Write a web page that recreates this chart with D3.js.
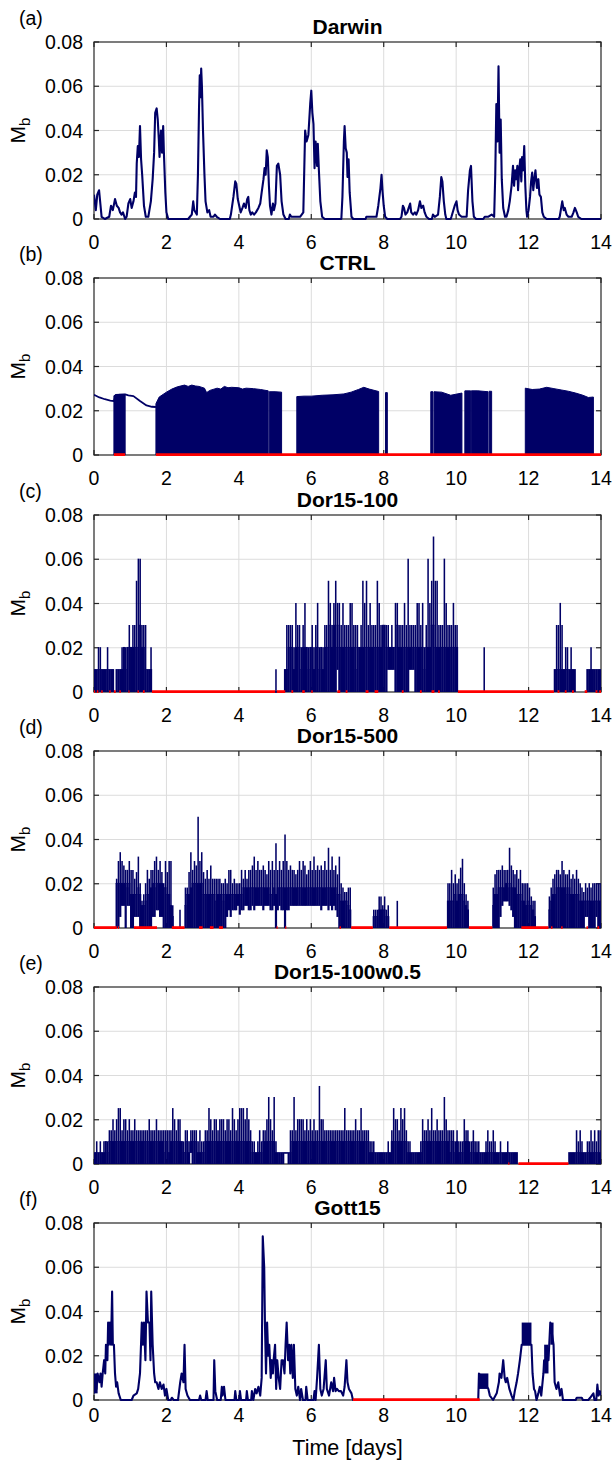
<!DOCTYPE html>
<html><head><meta charset="utf-8">
<script src="https://cdn.jsdelivr.net/npm/d3@7"></script>
<style>
body{margin:0;background:#fff;}
svg{display:block;font-family:"Liberation Sans",Arial,Helvetica,sans-serif;}
</style></head><body>
<svg id="fig" width="613" height="1461"></svg>
<script>
// ---------- axes ----------
const xTicks = [0, 2, 4, 6, 8, 10, 12, 14];
const yTicks = [0, 0.02, 0.04, 0.06, 0.08];
const yTickLabels = ["0", "0.02", "0.04", "0.06", "0.08"];
const panelLetters = ["(a)", "(b)", "(c)", "(d)", "(e)", "(f)"];
const panelTitles = ["Darwin", "CTRL", "Dor15-100", "Dor15-500", "Dor15-100w0.5", "Gott15"];

// ---------- (a) Darwin: [time (days), Mb] ----------
const darwin = [
[0,0.011],[0.05,0.004],[0.09,0.011],[0.14,0.013],[0.21,0.001],[0.3,0],[0.42,0.001],[0.47,0.006],[0.52,0.004],[0.58,0.009],[0.63,0.006],[0.68,0.005],[0.72,0.003],[0.76,0.002],[0.8,0.003],[0.86,0],[0.9,0.001],[0.95,0.007],[1.0,0.009],[1.04,0.005],[1.09,0.008],[1.13,0.012],[1.16,0.01],[1.18,0.025],[1.21,0.033],[1.24,0.028],[1.27,0.042],[1.3,0.027],[1.33,0.02],[1.38,0.006],[1.43,0.001],[1.5,0.001],[1.57,0.008],[1.62,0.018],[1.66,0.03],[1.69,0.048],[1.73,0.05],[1.76,0.045],[1.79,0.036],[1.81,0.028],[1.85,0.04],[1.88,0.03],[1.91,0.042],[1.93,0.03],[1.97,0.012],[2.0,0.003],[2.05,0],[2.6,0],[2.65,0.001],[2.7,0.002],[2.74,0.008],[2.77,0.004],[2.84,0.002],[2.87,0.02],[2.9,0.05],[2.92,0.065],[2.94,0.055],[2.96,0.068],[2.98,0.06],[3.01,0.04],[3.05,0.02],[3.08,0.008],[3.13,0.003],[3.18,0.004],[3.22,0.001],[3.3,0.001],[3.34,0.002],[3.39,0.001],[3.48,0],[3.75,0],[3.78,0.002],[3.85,0.01],[3.9,0.017],[3.93,0.016],[3.97,0.009],[4.01,0.006],[4.05,0.003],[4.1,0.005],[4.14,0.007],[4.19,0.005],[4.23,0.009],[4.26,0.01],[4.29,0.004],[4.33,0.002],[4.37,0.003],[4.42,0.002],[4.47,0.003],[4.54,0.005],[4.59,0.007],[4.63,0.012],[4.68,0.018],[4.71,0.023],[4.74,0.02],[4.77,0.031],[4.8,0.028],[4.83,0.015],[4.86,0.006],[4.9,0.002],[4.94,0.007],[4.97,0.004],[5.01,0.007],[5.05,0.024],[5.09,0.025],[5.14,0.02],[5.18,0.008],[5.23,0.002],[5.29,0],[5.38,0],[5.41,0.002],[5.45,0.001],[5.5,0.001],[5.69,0.001],[5.78,0.003],[5.83,0.04],[5.87,0.035],[5.92,0.038],[5.97,0.052],[6.0,0.058],[6.03,0.048],[6.06,0.043],[6.09,0.023],[6.12,0.035],[6.16,0.024],[6.18,0.034],[6.21,0.022],[6.25,0.008],[6.3,0.001],[6.37,0],[6.83,0],[6.86,0.01],[6.9,0.035],[6.92,0.042],[6.95,0.032],[6.98,0.03],[7.0,0.019],[7.03,0.027],[7.06,0.012],[7.11,0.001],[7.16,0],[7.5,0],[7.52,0.001],[7.6,0.001],[7.8,0.001],[7.85,0.006],[7.91,0.014],[7.94,0.02],[7.97,0.012],[8.0,0.006],[8.04,0.001],[8.1,0],[8.45,0],[8.49,0.001],[8.53,0.006],[8.56,0.005],[8.6,0.002],[8.65,0.003],[8.69,0.005],[8.73,0.007],[8.76,0.003],[8.81,0.002],[8.86,0.003],[8.9,0.002],[8.95,0.004],[9.0,0.008],[9.04,0.005],[9.09,0.006],[9.13,0.003],[9.18,0.001],[9.25,0],[9.33,0],[9.36,0.002],[9.41,0.001],[9.5,0.002],[9.55,0.01],[9.59,0.019],[9.62,0.017],[9.66,0.008],[9.7,0.002],[9.73,0],[9.85,0],[9.87,0.001],[9.96,0.006],[10.01,0.008],[10.04,0.004],[10.08,0.002],[10.15,0.001],[10.29,0.001],[10.33,0.013],[10.38,0.022],[10.41,0.024],[10.45,0.008],[10.49,0.001],[10.55,0],[10.75,0],[10.79,0.001],[10.88,0.001],[10.98,0.002],[11.05,0.001],[11.08,0.02],[11.11,0.052],[11.14,0.035],[11.17,0.069],[11.2,0.03],[11.23,0.045],[11.26,0.018],[11.3,0.005],[11.35,0.001],[11.39,0.001],[11.44,0.004],[11.48,0.008],[11.53,0.015],[11.57,0.024],[11.6,0.015],[11.63,0.022],[11.66,0.018],[11.69,0.024],[11.71,0.013],[11.74,0.022],[11.77,0.027],[11.8,0.017],[11.82,0.028],[11.85,0.022],[11.88,0.033],[11.91,0.015],[11.94,0.004],[11.96,0.001],[12.0,0.004],[12.04,0.01],[12.07,0.017],[12.1,0.021],[12.13,0.013],[12.16,0.018],[12.19,0.022],[12.23,0.014],[12.27,0.018],[12.3,0.011],[12.34,0.01],[12.38,0.003],[12.42,0.001],[12.5,0],[12.83,0],[12.86,0.001],[12.89,0.004],[12.93,0.008],[12.97,0.004],[13.0,0.005],[13.05,0.002],[13.1,0.001],[13.19,0.001],[13.24,0.003],[13.28,0.005],[13.33,0.003],[13.37,0.001],[13.46,0],[14,0]
];

// ---------- (b) CTRL ----------
// single trace before the oscillating regime
const ctrlTrace = [[0,0.0272],[0.15,0.026],[0.3,0.0252],[0.45,0.0246],[0.55,0.0244],[0.6,0.0272],[0.86,0.0274],[0.95,0.027],[1.09,0.0266],[1.27,0.0244],[1.45,0.0224],[1.6,0.0218],[1.71,0.0217]];
// rapidly oscillating blocks (0 up to the upper envelope)
const ctrlBlocks = [
 [[0.55,0.0268],[0.7,0.0274],[0.86,0.0274]],
 [[1.71,0.0232],[1.8,0.0262],[2.0,0.0284],[2.15,0.0298],[2.3,0.0308],[2.5,0.0316],[2.6,0.031],[2.7,0.0316],[2.8,0.0312],[2.9,0.031],[3.05,0.0302],[3.11,0.0282],[3.2,0.0292],[3.4,0.0302],[3.5,0.0298],[3.6,0.031],[3.7,0.0304],[3.8,0.0306],[4.0,0.0304],[4.1,0.0298],[4.2,0.0302],[4.4,0.03],[4.6,0.0296],[4.81,0.029]],
 [[4.84,0.0286],[5.0,0.0286],[5.18,0.0284]],
 [[5.6,0.0264],[5.8,0.0266],[6.0,0.0266],[6.3,0.027],[6.6,0.0272],[6.9,0.0276],[7.1,0.0284],[7.3,0.0296],[7.45,0.0306],[7.6,0.0298],[7.86,0.0287]],
 [[8.05,0.0282],[8.1,0.0282]],
 [[9.3,0.0286],[9.36,0.0286]],
 [[9.39,0.0286],[9.6,0.0284],[9.85,0.027],[10.16,0.028]],
 [[10.24,0.029],[10.4,0.029]],
 [[10.42,0.029],[10.6,0.029],[10.88,0.0286]],
 [[10.91,0.0288],[10.98,0.0288]],
 [[11.91,0.0302],[12.1,0.0296],[12.3,0.0298],[12.5,0.0306],[12.7,0.03],[12.9,0.0294],[13.1,0.0288],[13.3,0.028],[13.5,0.027],[13.65,0.026],[13.79,0.0262]]
];

// ---------- dense model output, 0.05-day columns: [t, low, solid top, peak] ----------
const colStep = 0.05;
const dor100 = [
[0,0,0.01,0.01],[0.05,0,0.01,0.01],[0.1,0,0.01,0.02],[0.15,0,0.01,0.02],[0.2,0,0.01,0.01],[0.25,0,0.01,0.01],[0.3,0,0.01,0.01],[0.35,0,0.01,0.02],[0.4,0,0.01,0.01],[0.45,0,0.01,0.01],[0.5,0,0.01,0.01],
[0.6,0,0.01,0.01],[0.65,0,0.01,0.01],[0.7,0,0.01,0.01],[0.75,0,0.01,0.02],[0.8,0,0.02,0.02],[0.85,0,0.01,0.02],[0.9,0,0.02,0.02],[0.95,0,0.02,0.03],[1.0,0,0.02,0.02],[1.05,0,0.02,0.03],[1.1,0,0.02,0.03],[1.15,0,0.02,0.05],[1.2,0,0.02,0.06],[1.25,0,0.03,0.06],[1.3,0,0.02,0.03],[1.35,0,0.02,0.03],[1.4,0,0.01,0.03],[1.45,0,0.01,0.01],[1.5,0,0.01,0.01],[1.55,0,0.01,0.02],
[5.0,0,0,0.01],
[5.25,0,0.01,0.01],[5.3,0,0.01,0.03],[5.35,0,0.02,0.03],[5.4,0,0.02,0.03],[5.45,0,0.02,0.03],[5.5,0,0.01,0.02],[5.55,0,0.02,0.04],[5.6,0,0.02,0.03],[5.65,0,0.02,0.03],[5.7,0,0.01,0.02],[5.75,0,0.02,0.03],[5.8,0,0.02,0.04],[5.85,0,0.02,0.02],[5.9,0,0.01,0.02],[5.95,0,0.02,0.02],
[6.0,0,0.02,0.03],[6.05,0,0.01,0.02],[6.1,0,0.02,0.03],[6.15,0,0.02,0.04],[6.2,0,0.01,0.02],[6.25,0,0.02,0.02],[6.3,0,0.01,0.02],[6.35,0,0.02,0.03],[6.4,0,0.02,0.03],[6.45,0,0.02,0.05],[6.5,0,0.03,0.04],[6.55,0,0.02,0.03],[6.6,0,0.03,0.04],[6.65,0,0.02,0.05],[6.7,0.01,0.03,0.04],[6.75,0,0.02,0.04],[6.8,0,0.02,0.03],[6.85,0,0.02,0.04],[6.9,0,0.02,0.03],[6.95,0,0.02,0.03],
[7.0,0,0.02,0.03],[7.05,0,0.02,0.04],[7.1,0,0.02,0.04],[7.15,0,0.02,0.03],[7.2,0,0.01,0.03],[7.25,0,0.02,0.03],[7.3,0,0.02,0.02],[7.35,0,0.02,0.03],[7.4,0,0.02,0.05],[7.45,0,0.02,0.04],[7.5,0,0.02,0.05],[7.55,0,0.02,0.03],[7.6,0,0.02,0.04],[7.65,0,0.02,0.03],[7.7,0,0.02,0.03],[7.75,0,0.02,0.03],[7.8,0,0.02,0.05],[7.85,0,0.02,0.04],[7.9,0,0.02,0.03],[7.95,0,0.03,0.03],
[8.0,0,0.03,0.03],[8.05,0,0.02,0.03],[8.1,0.01,0.02,0.03],[8.15,0.01,0.02,0.02],[8.2,0.01,0.02,0.03],[8.25,0.01,0.02,0.02],[8.3,0,0.02,0.04],[8.35,0,0.03,0.04],[8.4,0,0.02,0.03],[8.45,0,0.02,0.03],[8.5,0,0.02,0.03],[8.55,0,0.02,0.04],[8.6,0,0.02,0.03],[8.65,0,0.02,0.06],[8.7,0.01,0.02,0.03],[8.75,0.01,0.02,0.03],[8.8,0.01,0.02,0.03],[8.85,0,0.02,0.03],[8.9,0,0.02,0.04],[8.95,0,0.02,0.04],
[9.0,0,0.02,0.03],[9.05,0,0.02,0.04],[9.1,0,0.01,0.02],[9.15,0,0.02,0.03],[9.2,0,0.02,0.06],[9.25,0,0.02,0.04],[9.3,0,0.03,0.05],[9.35,0,0.03,0.07],[9.4,0,0.02,0.05],[9.45,0,0.02,0.05],[9.5,0,0.02,0.03],[9.55,0,0.02,0.03],[9.6,0,0.02,0.03],[9.65,0,0.02,0.06],[9.7,0,0.02,0.04],[9.75,0,0.02,0.03],[9.8,0,0.02,0.03],[9.85,0,0.02,0.03],[9.9,0,0.02,0.04],[9.95,0,0.02,0.03],[10.0,0,0.02,0.03],
[10.75,0,0,0.02],
[12.7,0,0.01,0.01],[12.75,0,0.01,0.03],[12.8,0,0.01,0.03],[12.85,0,0.01,0.04],[12.9,0,0.01,0.03],[12.95,0,0.01,0.01],[13.0,0,0.01,0.02],[13.05,0,0.01,0.02],[13.1,0,0.01,0.01],[13.15,0,0.01,0.02],[13.2,0,0.01,0.01],[13.25,0,0.01,0.01],
[13.6,0,0.01,0.01],[13.65,0,0.01,0.01],[13.7,0,0.01,0.02],[13.75,0,0.01,0.01],[13.8,0,0.01,0.01],[13.85,0,0.01,0.01],[13.9,0,0.01,0.01],[13.95,0,0.01,0.01]
];

const dor500 = [
[0.6,0,0.02,0.022],[0.65,0,0.02,0.03],[0.7,0.005,0.02,0.034],[0.75,0.01,0.02,0.03],[0.8,0.01,0.02,0.028],[0.85,0,0.02,0.026],[0.9,0.01,0.018,0.026],[0.95,0.01,0.02,0.03],
[1.0,0,0.015,0.026],[1.05,0,0.015,0.026],[1.1,0.005,0.015,0.022],[1.15,0.005,0.015,0.025],[1.2,0.005,0.018,0.032],[1.25,0,0.015,0.02],[1.3,0,0.01,0.012],[1.35,0,0.01,0.015],[1.4,0,0.012,0.02],[1.45,0,0.015,0.026],[1.5,0,0.015,0.022],[1.55,0,0.018,0.026],[1.6,0.005,0.02,0.026],[1.65,0.005,0.018,0.03],[1.7,0.008,0.02,0.032],[1.75,0.008,0.02,0.026],[1.8,0.005,0.02,0.03],[1.85,0.005,0.02,0.025],[1.9,0,0.018,0.02],[1.95,0,0.018,0.03],
[2.0,0,0.015,0.025],[2.05,0,0.015,0.03],[2.1,0,0.01,0.03],[2.15,0,0.005,0.01],
[2.35,0,0,0.008],
[2.5,0,0.01,0.018],[2.55,0,0.015,0.018],[2.6,0,0.015,0.025],[2.65,0,0.018,0.034],[2.7,0,0.02,0.026],[2.75,0,0.02,0.03],[2.8,0,0.02,0.028],[2.85,0,0.02,0.05],[2.9,0,0.02,0.03],[2.95,0,0.02,0.034],
[3.0,0,0.015,0.025],[3.05,0,0.015,0.022],[3.1,0,0.015,0.026],[3.15,0,0.015,0.022],[3.2,0,0.015,0.028],[3.25,0,0.015,0.022],[3.3,0,0.015,0.022],[3.35,0,0.012,0.022],[3.4,0,0.015,0.022],[3.45,0,0.015,0.022],[3.5,0,0.015,0.02],[3.55,0,0.012,0.02],[3.6,0,0.015,0.022],[3.65,0.005,0.015,0.02],[3.7,0.008,0.015,0.026],[3.75,0.005,0.015,0.026],[3.8,0.008,0.015,0.02],[3.85,0.008,0.015,0.022],[3.9,0.008,0.015,0.02],[3.95,0.01,0.015,0.02],
[4.0,0.006,0.015,0.02],[4.05,0.008,0.015,0.026],[4.1,0.008,0.018,0.022],[4.15,0.01,0.018,0.026],[4.2,0.01,0.018,0.022],[4.25,0.008,0.018,0.026],[4.3,0.008,0.018,0.026],[4.35,0.01,0.018,0.028],[4.4,0.008,0.018,0.032],[4.45,0.01,0.018,0.026],[4.5,0.01,0.018,0.03],[4.55,0.01,0.018,0.026],[4.6,0.01,0.018,0.026],[4.65,0.008,0.018,0.028],[4.7,0.01,0.018,0.026],[4.75,0.01,0.018,0.024],[4.8,0.01,0.018,0.03],[4.85,0.008,0.015,0.026],[4.9,0.008,0.015,0.03],[4.95,0.01,0.018,0.026],
[5.0,0,0.015,0.038],[5.05,0.008,0.018,0.026],[5.1,0.01,0.018,0.03],[5.15,0.008,0.018,0.026],[5.2,0.008,0.018,0.03],[5.25,0,0.018,0.042],[5.3,0.008,0.018,0.03],[5.35,0.008,0.018,0.026],[5.4,0.01,0.018,0.028],[5.45,0.01,0.018,0.026],[5.5,0.01,0.018,0.026],[5.55,0.01,0.018,0.024],[5.6,0.01,0.018,0.026],[5.65,0.01,0.018,0.03],[5.7,0.01,0.018,0.026],[5.75,0.01,0.018,0.03],[5.8,0.01,0.018,0.028],[5.85,0.01,0.018,0.024],[5.9,0.01,0.018,0.026],[5.95,0.01,0.018,0.03],
[6.0,0.01,0.018,0.026],[6.05,0.01,0.018,0.032],[6.1,0.01,0.018,0.026],[6.15,0.01,0.018,0.028],[6.2,0.01,0.018,0.026],[6.25,0.008,0.018,0.028],[6.3,0.01,0.018,0.026],[6.35,0.01,0.018,0.03],[6.4,0.01,0.018,0.026],[6.45,0.008,0.018,0.036],[6.5,0.01,0.018,0.026],[6.55,0.008,0.018,0.032],[6.6,0.01,0.018,0.026],[6.65,0.008,0.018,0.028],[6.7,0.005,0.015,0.024],[6.75,0,0.015,0.032],[6.8,0,0.012,0.02],[6.85,0,0.012,0.018],[6.9,0,0.012,0.016],[6.95,0,0.012,0.016],[7.0,0,0.01,0.018],[7.05,0,0.008,0.018],
[7.7,0,0.005,0.008],[7.75,0,0.005,0.008],[7.8,0,0.005,0.008],[7.85,0,0.008,0.014],[7.9,0,0.008,0.014],[7.95,0,0.008,0.01],[8.0,0,0.008,0.014],[8.05,0,0.005,0.008],[8.1,0,0.005,0.01],
[8.35,0,0,0.012],
[9.75,0,0.012,0.02],[9.8,0,0.012,0.02],[9.85,0,0.012,0.026],[9.9,0,0.012,0.02],[9.95,0,0.015,0.024],[10.0,0,0.012,0.02],[10.05,0,0.015,0.022],[10.1,0,0.015,0.027],[10.15,0,0.015,0.031],[10.2,0,0.012,0.02],[10.25,0,0.01,0.015],[10.3,0,0.008,0.012],
[11.0,0,0.01,0.018],[11.05,0,0.015,0.024],[11.1,0,0.015,0.026],[11.15,0,0.018,0.026],[11.2,0.005,0.018,0.026],[11.25,0.01,0.018,0.028],[11.3,0.012,0.018,0.026],[11.35,0.012,0.02,0.026],[11.4,0.012,0.018,0.026],[11.45,0.01,0.02,0.036],[11.5,0.008,0.018,0.028],[11.55,0.005,0.018,0.026],[11.6,0,0.018,0.024],[11.65,0,0.015,0.026],[11.7,0,0.015,0.022],[11.75,0,0.015,0.026],[11.8,0,0.012,0.02],[11.85,0,0.012,0.02],[11.9,0,0.01,0.02],[11.95,0,0.012,0.02],[12.0,0,0.01,0.018],[12.05,0,0.01,0.014],[12.1,0,0.008,0.012],[12.15,0,0.005,0.012],
[12.55,0,0.008,0.014],[12.6,0,0.012,0.018],[12.65,0,0.015,0.022],[12.7,0,0.015,0.024],[12.75,0,0.018,0.026],[12.8,0,0.018,0.026],[12.85,0,0.018,0.024],[12.9,0,0.018,0.03],[12.95,0,0.018,0.026],[13.0,0,0.018,0.024],[13.05,0,0.015,0.024],[13.1,0,0.018,0.026],[13.15,0,0.015,0.022],[13.2,0,0.015,0.024],[13.25,0,0.015,0.022],[13.3,0,0.015,0.026],[13.35,0,0.015,0.022],[13.4,0,0.012,0.02],[13.45,0,0.012,0.018],[13.5,0,0.012,0.016],[13.55,0.005,0.012,0.02],[13.6,0.005,0.012,0.018],[13.65,0,0.012,0.02],[13.7,0,0.012,0.018],[13.75,0,0.012,0.02],[13.8,0,0.012,0.02],[13.85,0.005,0.012,0.02],[13.9,0,0.012,0.02],[13.95,0,0.012,0.02]
];

const dor100w = [
[0,0,0.005,0.005],[0.05,0,0.005,0.01],[0.1,0,0.005,0.005],[0.15,0,0.005,0.01],[0.2,0,0.005,0.005],[0.25,0,0.005,0.01],[0.3,0,0.01,0.01],[0.35,0,0.005,0.01],[0.4,0,0.01,0.015],[0.45,0,0.01,0.015],[0.5,0,0.01,0.02],[0.55,0,0.01,0.015],[0.6,0,0.01,0.02],[0.65,0,0.01,0.025],[0.7,0,0.01,0.025],[0.75,0,0.01,0.015],[0.8,0,0.01,0.02],[0.85,0,0.01,0.02],[0.9,0,0.01,0.015],[0.95,0,0.01,0.02],
[1.0,0,0.01,0.015],[1.05,0,0.01,0.015],[1.1,0,0.01,0.02],[1.15,0,0.01,0.015],[1.2,0,0.01,0.015],[1.25,0,0.01,0.015],[1.3,0,0.01,0.015],[1.35,0,0.01,0.015],[1.4,0,0.01,0.015],[1.45,0,0.01,0.015],[1.5,0,0.01,0.02],[1.55,0,0.01,0.015],[1.6,0,0.01,0.015],[1.65,0,0.01,0.015],[1.7,0,0.01,0.02],[1.75,0,0.01,0.015],[1.8,0,0.01,0.015],[1.85,0,0.01,0.015],[1.9,0,0.005,0.015],[1.95,0,0.01,0.015],
[2.0,0,0.01,0.015],[2.05,0,0.005,0.015],[2.1,0,0.01,0.015],[2.15,0,0.01,0.025],[2.2,0,0.01,0.02],[2.25,0,0.01,0.015],[2.3,0,0.01,0.02],[2.35,0,0.01,0.02],[2.4,0,0.01,0.01],[2.45,0,0.005,0.01],[2.5,0,0.005,0.015],[2.55,0,0.01,0.015],[2.6,0,0.005,0.01],[2.65,0.005,0.01,0.015],[2.7,0,0.01,0.015],[2.75,0,0.01,0.015],[2.8,0,0.01,0.015],[2.85,0,0.005,0.01],[2.9,0,0.005,0.015],[2.95,0,0.005,0.01],
[3.0,0,0.005,0.01],[3.05,0,0.01,0.015],[3.1,0,0.01,0.015],[3.15,0,0.01,0.025],[3.2,0,0.01,0.02],[3.25,0,0.01,0.015],[3.3,0,0.01,0.02],[3.35,0,0.01,0.02],[3.4,0,0.01,0.015],[3.45,0,0.01,0.02],[3.5,0,0.01,0.02],[3.55,0,0.01,0.02],[3.6,0,0.01,0.015],[3.65,0,0.01,0.02],[3.7,0,0.01,0.02],[3.75,0,0.01,0.015],[3.8,0,0.01,0.025],[3.85,0,0.01,0.02],[3.9,0,0.01,0.015],[3.95,0,0.01,0.02],
[4.0,0,0.01,0.025],[4.05,0,0.01,0.025],[4.1,0,0.01,0.025],[4.15,0,0.01,0.02],[4.2,0,0.01,0.025],[4.25,0,0.01,0.02],[4.3,0,0.01,0.015],[4.35,0,0.005,0.01],[4.4,0,0.005,0.01],[4.45,0,0.005,0.005],[4.5,0,0.005,0.01],[4.55,0,0.005,0.015],[4.6,0,0.005,0.01],[4.65,0,0.01,0.015],[4.7,0,0.01,0.015],[4.75,0,0.01,0.02],[4.8,0,0.01,0.03],[4.85,0,0.01,0.02],[4.9,0,0.01,0.015],[4.95,0,0.01,0.03],
[5.0,0,0.005,0.01],[5.05,0,0.005,0.005],[5.1,0,0.005,0.005],[5.15,0,0.005,0.005],[5.2,0,0.005,0.005],[5.25,0.005,0.005,0.005],[5.3,0.005,0.005,0.005],[5.35,0,0.005,0.005],[5.4,0,0.005,0.015],[5.45,0,0.01,0.015],[5.5,0,0.01,0.03],[5.55,0,0.01,0.015],[5.6,0,0.01,0.02],[5.65,0,0.01,0.02],[5.7,0,0.01,0.02],[5.75,0,0.01,0.02],[5.8,0,0.01,0.015],[5.85,0,0.01,0.02],[5.9,0,0.01,0.015],[5.95,0,0.01,0.02],
[6.0,0,0.01,0.015],[6.05,0,0.01,0.02],[6.1,0,0.01,0.015],[6.15,0,0.01,0.015],[6.2,0,0.01,0.035],[6.25,0,0.01,0.02],[6.3,0,0.01,0.02],[6.35,0,0.01,0.015],[6.4,0,0.01,0.015],[6.45,0,0.01,0.015],[6.5,0,0.01,0.015],[6.55,0,0.01,0.015],[6.6,0,0.01,0.015],[6.65,0,0.01,0.015],[6.7,0,0.01,0.015],[6.75,0,0.01,0.015],[6.8,0,0.01,0.015],[6.85,0,0.01,0.015],[6.9,0,0.01,0.025],[6.95,0,0.01,0.015],
[7.0,0,0.01,0.015],[7.05,0,0.01,0.015],[7.1,0,0.01,0.015],[7.15,0,0.01,0.015],[7.2,0,0.01,0.02],[7.25,0,0.01,0.015],[7.3,0,0.01,0.015],[7.35,0,0.01,0.025],[7.4,0,0.01,0.015],[7.45,0,0.01,0.015],[7.5,0,0.01,0.015],[7.55,0,0.01,0.015],[7.6,0,0.005,0.01],[7.65,0,0.005,0.01],[7.7,0,0.005,0.01],[7.75,0,0.005,0.005],[7.8,0,0.005,0.005],[7.85,0,0.005,0.005],[7.9,0,0.005,0.005],[7.95,0,0.005,0.005],
[8.0,0,0.005,0.005],[8.05,0,0.005,0.005],[8.1,0,0.005,0.01],[8.15,0,0.005,0.005],[8.2,0,0.01,0.015],[8.25,0,0.01,0.025],[8.3,0,0.01,0.02],[8.35,0,0.01,0.02],[8.4,0,0.01,0.015],[8.45,0,0.01,0.025],[8.5,0,0.01,0.02],[8.55,0,0.01,0.025],[8.6,0,0.01,0.015],[8.65,0,0.005,0.01],[8.7,0,0.005,0.01],[8.75,0,0.005,0.005],[8.8,0,0.005,0.005],[8.85,0,0.005,0.005],[8.9,0,0.005,0.005],[8.95,0,0.005,0.005],
[9.0,0,0.005,0.01],[9.05,0,0.01,0.02],[9.1,0,0.01,0.015],[9.15,0,0.01,0.015],[9.2,0,0.01,0.02],[9.25,0,0.01,0.015],[9.3,0,0.01,0.025],[9.35,0,0.01,0.015],[9.4,0,0.01,0.015],[9.45,0,0.01,0.02],[9.5,0,0.01,0.015],[9.55,0,0.01,0.015],[9.6,0,0.01,0.015],[9.65,0,0.01,0.03],[9.7,0,0.01,0.02],[9.75,0,0.01,0.015],[9.8,0,0.005,0.015],[9.85,0,0.01,0.015],[9.9,0,0.01,0.015],[9.95,0,0.005,0.01],
[10.0,0,0.01,0.015],[10.05,0,0.005,0.01],[10.1,0,0.005,0.01],[10.15,0,0.005,0.01],[10.2,0,0.01,0.02],[10.25,0,0.01,0.015],[10.3,0,0.01,0.015],[10.35,0,0.005,0.01],[10.4,0,0.005,0.01],[10.45,0,0.01,0.015],[10.5,0,0.005,0.01],[10.55,0,0.005,0.01],[10.6,0,0.005,0.01],[10.65,0,0.005,0.005],[10.7,0,0.005,0.005],[10.75,0,0.005,0.005],[10.8,0,0.005,0.01],[10.85,0,0.005,0.015],[10.9,0,0.005,0.01],[10.95,0,0.005,0.01],
[11.0,0,0.005,0.015],[11.05,0,0.005,0.01],[11.1,0,0.005,0.005],[11.15,0,0.005,0.005],[11.2,0,0.005,0.01],[11.25,0,0.005,0.005],[11.3,0,0.005,0.005],[11.35,0,0.005,0.005],[11.4,0,0.005,0.01],[11.45,0,0.005,0.005],[11.5,0,0.005,0.005],[11.55,0,0.005,0.005],[11.6,0,0.005,0.005],[11.65,0,0.005,0.005],
[13.1,0,0.005,0.005],[13.15,0,0.005,0.005],[13.2,0,0.005,0.005],[13.25,0,0.005,0.005],[13.3,0,0.005,0.015],[13.35,0,0.005,0.01],[13.4,0,0.005,0.015],[13.45,0,0.005,0.01],[13.5,0,0.005,0.005],[13.55,0,0.005,0.005],[13.6,0,0.005,0.01],[13.65,0,0.005,0.01],[13.7,0,0.005,0.015],[13.75,0,0.005,0.01],[13.8,0,0.005,0.015],[13.85,0,0.005,0.01],[13.9,0,0.005,0.015],[13.95,0,0.005,0.015]
];

// ---------- (f) Gott15 ----------
const gott = [
[0,0.003],[0.03,0.008],[0.07,0.005],[0.1,0.012],[0.15,0.008],[0.18,0.012],[0.21,0.006],[0.24,0.012],[0.28,0.018],[0.31,0.012],[0.33,0.025],[0.37,0.018],[0.39,0.035],[0.41,0.025],[0.44,0.035],[0.47,0.025],[0.5,0.049],[0.52,0.025],[0.55,0.025],[0.58,0.012],[0.61,0.006],[0.64,0.008],[0.68,0.003],[0.74,0],[1.04,0],[1.09,0.002],[1.18,0.003],[1.22,0.005],[1.27,0.012],[1.32,0.035],[1.35,0.025],[1.38,0.035],[1.42,0.018],[1.45,0.049],[1.49,0.035],[1.53,0.035],[1.56,0.018],[1.58,0.049],[1.62,0.025],[1.66,0.012],[1.69,0.008],[1.73,0.008],[1.78,0.005],[1.82,0.008],[1.87,0.005],[1.92,0.007],[1.96,0.002],[2.0,0.005],[2.05,0],[2.12,0],[2.15,0.001],[2.2,0],[2.32,0],[2.38,0.008],[2.42,0.012],[2.47,0.008],[2.5,0.025],[2.53,0.005],[2.58,0.002],[2.65,0],[2.9,0],[2.93,0.002],[2.96,0],[3.08,0],[3.11,0.004],[3.14,0],[3.3,0],[3.32,0.018],[3.35,0.004],[3.4,0],[3.5,0],[3.53,0.006],[3.55,0.002],[3.59,0.006],[3.63,0],[3.88,0],[3.9,0.004],[3.93,0],[4.01,0],[4.03,0.004],[4.06,0],[4.2,0],[4.22,0.004],[4.25,0],[4.34,0],[4.36,0.004],[4.4,0],[4.45,0.005],[4.49,0.003],[4.54,0.006],[4.59,0.002],[4.63,0.01],[4.66,0.074],[4.7,0.06],[4.72,0.035],[4.75,0.012],[4.78,0.035],[4.81,0.02],[4.84,0.025],[4.88,0.01],[4.91,0.018],[4.94,0.012],[4.96,0.018],[5.0,0.025],[5.03,0.005],[5.06,0.018],[5.1,0.01],[5.14,0.005],[5.18,0.018],[5.22,0.018],[5.26,0.012],[5.29,0.025],[5.32,0.035],[5.36,0.018],[5.39,0.025],[5.42,0.012],[5.45,0.025],[5.49,0.01],[5.52,0.025],[5.56,0.005],[5.6,0.002],[5.64,0.006],[5.69,0],[5.72,0.005],[5.77,0],[5.84,0],[5.86,0.006],[5.9,0],[6.06,0],[6.09,0.004],[6.12,0],[6.16,0.01],[6.21,0.025],[6.25,0.005],[6.29,0.002],[6.34,0.005],[6.4,0.018],[6.43,0.005],[6.49,0.002],[6.55,0.008],[6.6,0.004],[6.63,0.01],[6.67,0.004],[6.71,0.005],[6.76,0.004],[6.82,0.004],[6.88,0.002],[6.92,0.006],[6.97,0.018],[7.0,0.008],[7.04,0.005],[7.11,0.003],[7.15,0],
[10.61,0],[10.63,0.012],[10.89,0.005],[10.93,0.002],[11.02,0],[11.12,0.003],[11.18,0.008],[11.2,0.012],[11.25,0.01],[11.3,0.018],[11.34,0.01],[11.37,0.008],[11.41,0.01],[11.47,0.005],[11.53,0.002],[11.58,0],[11.62,0.004],[11.67,0.008],[11.71,0.012],[11.76,0.018],[11.81,0.025],[12.08,0.025],[12.11,0.012],[12.15,0.005],[12.18,0.004],[12.22,0],[12.27,0.003],[12.31,0.006],[12.35,0.002],[12.41,0.012],[12.43,0.018],[12.55,0.018],[12.6,0.035],[12.69,0.025],[12.72,0.008],[12.77,0.005],[12.82,0.008],[12.87,0.002],[12.91,0.005],[12.95,0],[13.3,0],[13.33,0.001],[13.4,0.001],[13.47,0.001],[13.5,0],[13.65,0],[13.7,0.001],[13.79,0.003],[13.82,0],[13.87,0],[13.9,0.007],[13.93,0.002],[13.97,0.004],[14,0.002]
];
// stretches where Gott15 flips rapidly between two levels: [start, end, low, high]
const gottBands = [[0,0.1,0.003,0.012],[10.63,10.89,0.005,0.012],[11.81,12.08,0.025,0.035],[12.43,12.55,0.012,0.025],[12.6,12.69,0.025,0.035]];

// ---------- times with Mb = 0 (red), [start, end] ----------
const zeroCtrl = [[0.55,0.86],[1.71,14]];
const zeroDor100 = [[0,0.03],[0.08,0.12],[0.2,0.24],[0.42,0.46],[0.55,0.6],[0.7,0.74],[0.95,0.98],[1.2,1.24],[1.35,1.4],[1.6,5.0],[5.05,5.28],[5.45,5.5],[5.75,5.82],[6.0,6.04],[6.72,6.8],[6.95,7.0],[7.5,7.58],[7.75,7.85],[8.5,8.55],[9.0,9.05],[9.32,9.4],[9.5,9.55],[10.05,12.7],[12.8,12.85],[13.0,13.05],[13.2,13.25],[13.55,13.62],[13.85,13.9],[13.95,14]];
const zeroDor500 = [[0,0.63],[0.66,0.69],[1.1,1.74],[2.15,2.5],[2.9,3.0],[3.2,3.3],[3.45,3.56],[5.04,5.07],[5.28,5.31],[6.78,6.82],[7.1,7.7],[8.15,9.75],[10.35,11.0],[11.8,12.55],[12.62,12.66],[12.9,12.94],[13.6,13.64],[13.9,13.95]];
const zeroDor100w = [[11.44,11.47],[11.72,13.1]];
const zeroGott = [[7.15,10.65]];

// ---------- layout ----------
const plotLeft = 94, plotRight = 601, plotH = 177;
const panelTops = [42, 278, 515, 751, 987, 1223];
const navy = "#000066";
const red = "#ff0000";
const axisColor = "#262626";
const gridColor = "#dcdcdc";

const svg = d3.select("#fig");
const x = d3.scaleLinear().domain([0, 14]).range([plotLeft, plotRight]);
const y = d3.scaleLinear().domain([0, 0.08]).range([plotH, 0]);

function drawFrame(g, i) {
  // grid
  g.append("g").selectAll("line").data(xTicks.slice(1, -1)).join("line")
    .attr("x1", d => x(d)).attr("x2", d => x(d)).attr("y1", 0).attr("y2", plotH)
    .attr("stroke", gridColor).attr("stroke-width", 1);
  g.append("g").selectAll("line").data(yTicks.slice(1, -1)).join("line")
    .attr("x1", plotLeft).attr("x2", plotRight).attr("y1", d => y(d)).attr("y2", d => y(d))
    .attr("stroke", gridColor).attr("stroke-width", 1);
  // box
  g.append("rect").attr("x", plotLeft).attr("y", 0).attr("width", plotRight - plotLeft).attr("height", plotH)
    .attr("fill", "none").attr("stroke", axisColor).attr("stroke-width", 1.2);
  // inward ticks on all four sides
  const tk = 5;
  const t = g.append("g").attr("stroke", axisColor).attr("stroke-width", 1.2);
  t.selectAll(".xb").data(xTicks).join("line").attr("x1", d => x(d)).attr("x2", d => x(d)).attr("y1", plotH).attr("y2", plotH - tk);
  t.selectAll(".xt").data(xTicks).join("line").attr("x1", d => x(d)).attr("x2", d => x(d)).attr("y1", 0).attr("y2", tk);
  t.selectAll(".yl").data(yTicks).join("line").attr("x1", plotLeft).attr("x2", plotLeft + tk).attr("y1", d => y(d)).attr("y2", d => y(d));
  t.selectAll(".yr").data(yTicks).join("line").attr("x1", plotRight).attr("x2", plotRight - tk).attr("y1", d => y(d)).attr("y2", d => y(d));
  // tick labels
  g.append("g").selectAll("text").data(yTicks).join("text")
    .attr("x", 83).attr("y", d => y(d)).attr("dy", "0.36em").attr("text-anchor", "end")
    .attr("font-size", 19.5).attr("fill", "#000").text((d, k) => yTickLabels[k]);
  const xlabY = i === 5 ? plotH + 22 : plotH + 30;
  g.append("g").selectAll("text").data(xTicks).join("text")
    .attr("x", d => x(d)).attr("y", xlabY).attr("text-anchor", "middle")
    .attr("font-size", 19.5).attr("fill", "#000").text(d => d);
  // title and panel letter
  g.append("text").attr("x", (plotLeft + plotRight) / 2).attr("y", -8.5).attr("text-anchor", "middle")
    .attr("font-size", 21).attr("font-weight", "bold").attr("fill", "#000").text(panelTitles[i]);
  g.append("text").attr("x", 19).attr("y", -17).attr("font-size", 19.5).attr("fill", "#000").text(panelLetters[i]);
  // y label
  const yl = g.append("text").attr("transform", `translate(25,${plotH / 2}) rotate(-90)`)
    .attr("text-anchor", "middle").attr("font-size", 21).attr("fill", "#000");
  yl.append("tspan").text("M");
  yl.append("tspan").attr("font-size", 15).attr("dy", 5).text("b");
}

function plotLayer(g, i) {
  const clipId = "clip" + i;
  g.append("clipPath").attr("id", clipId).append("rect")
    .attr("x", plotLeft).attr("y", -2).attr("width", plotRight - plotLeft).attr("height", plotH + 4);
  return g.append("g").attr("clip-path", `url(#${clipId})`);
}

function drawTrace(layer, pts, w) {
  layer.append("path").datum(pts)
    .attr("d", d3.line().x(d => x(d[0])).y(d => y(d[1])))
    .attr("fill", "none").attr("stroke", navy).attr("stroke-width", w)
    .attr("stroke-linejoin", "round");
}

function drawColumns(layer, rows) {
  const cw = x(colStep) - x(0);
  layer.append("g").selectAll("rect").data(rows).join("rect")
    .attr("x", d => x(d[0]) - 0.2).attr("width", cw + 0.4)
    .attr("y", d => y(d[2]) - 0.8)
    .attr("height", d => Math.max(1.6, y(d[1]) - y(d[2]) + 0.8))
    .attr("fill", navy);
  layer.append("g").selectAll("line").data(rows.filter(d => d[3] > d[2])).join("line")
    .attr("x1", d => x(d[0] + colStep / 2)).attr("x2", d => x(d[0] + colStep / 2))
    .attr("y1", d => y(d[2])).attr("y2", d => y(d[3]) - 0.6)
    .attr("stroke", navy).attr("stroke-width", 1.55);
}

function drawZeros(layer, spans) {
  layer.append("g").selectAll("line").data(spans).join("line")
    .attr("x1", d => x(d[0])).attr("x2", d => x(d[1]))
    .attr("y1", y(0) - 0.4).attr("y2", y(0) - 0.4)
    .attr("stroke", red).attr("stroke-width", 2.8);
}

panelTops.forEach((top, i) => {
  const g = svg.append("g").attr("transform", `translate(0,${top})`);
  drawFrame(g, i);
  const layer = plotLayer(g, i);
  if (i === 0) {
    drawTrace(layer, darwin, 2.1);
  } else if (i === 1) {
    drawTrace(layer, ctrlTrace, 1.8);
    const area = d3.area().x(d => x(d[0])).y0(y(0)).y1(d => y(d[1]));
    layer.append("g").selectAll("path").data(ctrlBlocks).join("path")
      .attr("d", area).attr("fill", navy).attr("stroke", navy).attr("stroke-width", 1);
    drawZeros(layer, zeroCtrl);
  } else if (i === 2) {
    drawColumns(layer, dor100);
    drawZeros(layer, zeroDor100);
  } else if (i === 3) {
    drawColumns(layer, dor500);
    drawZeros(layer, zeroDor500);
  } else if (i === 4) {
    drawColumns(layer, dor100w);
    drawZeros(layer, zeroDor100w);
  } else {
    layer.append("g").selectAll("rect").data(gottBands).join("rect")
      .attr("x", d => x(d[0])).attr("width", d => x(d[1]) - x(d[0]))
      .attr("y", d => y(d[3])).attr("height", d => y(d[2]) - y(d[3]))
      .attr("fill", navy);
    drawTrace(layer, gott, 2.1);
    drawZeros(layer, zeroGott);
  }
});

svg.append("text").attr("x", (plotLeft + plotRight) / 2).attr("y", 1455)
  .attr("text-anchor", "middle").attr("font-size", 21.5).attr("fill", "#000").text("Time [days]");
</script>
</body></html>
